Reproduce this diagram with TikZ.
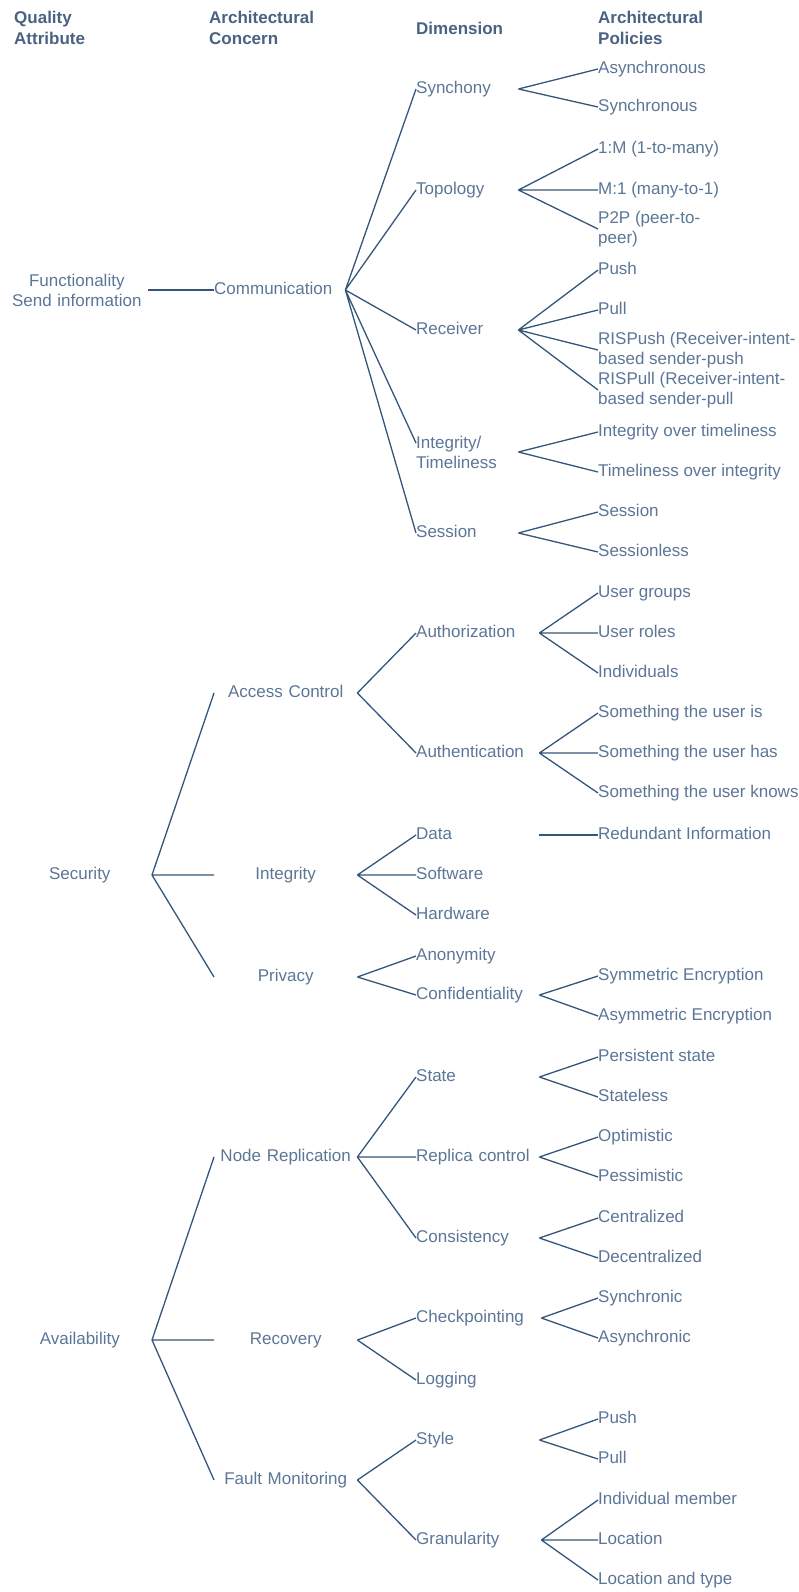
\documentclass[tikz,border=0pt]{standalone}
\usepackage{fontspec}
\setmainfont{Liberation Sans}
\definecolor{hdrcol}{HTML}{4A6282}
\definecolor{txtcol}{HTML}{5B7696}
\definecolor{linecol}{HTML}{34567A}

\begin{document}
\begin{tikzpicture}[x=1pt,y=-1pt,
    font=\fontsize{17}{20}\selectfont,
    every node/.style={text=txtcol,inner sep=0pt},
    hdr/.style={anchor=west,align=left,font=\fontsize{17}{21}\selectfont\bfseries,text=hdrcol},
    qa/.style={anchor=east,align=center,text width=144pt},
    concern/.style={anchor=west,align=center,text width=143pt,text height=12.5pt,text depth=3.5pt},
    dim/.style={anchor=west,align=left,text width=#1,text height=12.5pt,text depth=3.5pt},
    dim/.default=123pt,
    pol/.style={anchor=west,text height=12.5pt,text depth=3.5pt},
    pol2/.style={anchor=west,align=left},
    link/.style={draw=linecol,line width=1.3pt}]
    \useasboundingbox (0,0) rectangle (798,1592);

    % column titles
    \node[hdr] (h-qa) at (14,27.5) {Quality\\Attribute};
    \node[hdr] (h-ac) at (209,27.5) {Architectural\\Concern};
    \node[hdr] (h-dim) at (416,28) {Dimension};
    \node[hdr] (h-ap) at (598,27.5) {Architectural\\Policies};

    % functionality
    \node[qa,text width=142pt] (func) at (148,290) {Functionality\\Send information};
    \node[dim=131pt] (comm) at (214,290) {Communication};
    \node[dim=102pt] (syn) at (416,89) {Synchony};
    \node[dim=102pt] (topo) at (416,190) {Topology};
    \node[dim=102pt] (recv) at (416,330) {Receiver};
    \node[anchor=west,align=left,text width=102pt] (intime) at (416,452) {Integrity/\\Timeliness};
    \node[dim=102pt] (sess) at (416,533) {Session};
    \node[pol] (async) at (598,69) {Asynchronous};
    \node[pol] (sync) at (598,107) {Synchronous};
    \node[pol] (om) at (598,149) {1:M (1-to-many)};
    \node[pol] (mo) at (598,190) {M:1 (many-to-1)};
    \node[pol2] (p2p) at (598,229) {P2P (peer-to-\\peer)};
    \node[pol] (push) at (598,270) {Push};
    \node[pol] (pull) at (598,310) {Pull};
    \node[pol2] (rispush) at (598,350) {RISPush (Receiver-intent-\\based sender-push};
    \node[pol2] (rispull) at (598,390) {RISPull (Receiver-intent-\\based sender-pull};
    \node[pol] (iot) at (598,432) {Integrity over timeliness};
    \node[pol] (toi) at (598,472) {Timeliness over integrity};
    \node[pol] (sessy) at (598,512) {Session};
    \node[pol] (sessl) at (598,552) {Sessionless};

    \draw[link] (func.east) -- (comm.west);
    \draw[link] (comm.east) -- (syn.west) (comm.east) -- (topo.west) (comm.east) -- (recv.west)
        (comm.east) -- ([yshift=9pt]intime.west) (comm.east) -- (sess.west);
    \draw[link] (syn.east) -- (async.west) (syn.east) -- (sync.west);
    \draw[link] (topo.east) -- (om.west) (topo.east) -- (mo.west) (topo.east) -- (p2p.west);
    \draw[link] (recv.east) -- (push.west) (recv.east) -- (pull.west)
        (recv.east) -- (rispush.west) (recv.east) -- (rispull.west);
    \draw[link] (intime.east) -- (iot.west) (intime.east) -- (toi.west);
    \draw[link] (sess.east) -- (sessy.west) (sess.east) -- (sessl.west);

    % security
    \node[qa] (sec) at (152,875) {Security};
    \node[concern] (acc) at (214,693) {Access Control};
    \node[concern] (integ) at (214,875) {Integrity};
    \node[concern] (priv) at (214,977) {Privacy};
    \node[dim] (authz) at (416,633) {Authorization};
    \node[dim] (authn) at (416,753) {Authentication};
    \node[dim] (data) at (416,835) {Data};
    \node[dim] (soft) at (416,875) {Software};
    \node[dim] (hard) at (416,915) {Hardware};
    \node[dim] (anon) at (416,956) {Anonymity};
    \node[dim] (conf) at (416,995) {Confidentiality};
    \node[pol] (ugrp) at (598,593) {User groups};
    \node[pol] (urole) at (598,633) {User roles};
    \node[pol] (indiv) at (598,673) {Individuals};
    \node[pol] (sis) at (598,713) {Something the user is};
    \node[pol] (shas) at (598,753) {Something the user has};
    \node[pol] (skn) at (598,793) {Something the user knows};
    \node[pol] (redund) at (598,835) {Redundant Information};
    \node[pol] (symm) at (598,976) {Symmetric Encryption};
    \node[pol] (asym) at (598,1016) {Asymmetric Encryption};

    \draw[link] (sec.east) -- (acc.west) (sec.east) -- (integ.west) (sec.east) -- (priv.west);
    \draw[link] (acc.east) -- (authz.west) (acc.east) -- (authn.west);
    \draw[link] (integ.east) -- (data.west) (integ.east) -- (soft.west) (integ.east) -- (hard.west);
    \draw[link] (priv.east) -- (anon.west) (priv.east) -- (conf.west);
    \draw[link] (authz.east) -- (ugrp.west) (authz.east) -- (urole.west) (authz.east) -- (indiv.west);
    \draw[link] (authn.east) -- (sis.west) (authn.east) -- (shas.west) (authn.east) -- (skn.west);
    \draw[link] (data.east) -- (redund.west);
    \draw[link] (conf.east) -- (symm.west) (conf.east) -- (asym.west);

    % availability
    \node[qa] (avail) at (152,1340) {Availability};
    \node[concern] (nrep) at (214,1157) {Node Replication};
    \node[concern] (recov) at (214,1340) {Recovery};
    \node[concern] (fmon) at (214,1480) {Fault Monitoring};
    \node[dim] (state) at (416,1077) {State};
    \node[dim] (repl) at (416,1157) {Replica control};
    \node[dim] (cons) at (416,1238) {Consistency};
    \node[dim=125pt] (ckpt) at (416,1318) {Checkpointing};
    \node[dim] (logg) at (416,1380) {Logging};
    \node[dim] (style) at (416,1440) {Style};
    \node[dim=125pt] (gran) at (416,1540) {Granularity};
    \node[pol] (persist) at (598,1057) {Persistent state};
    \node[pol] (statel) at (598,1097) {Stateless};
    \node[pol] (optim) at (598,1137) {Optimistic};
    \node[pol] (pessim) at (598,1177) {Pessimistic};
    \node[pol] (centr) at (598,1218) {Centralized};
    \node[pol] (decentr) at (598,1258) {Decentralized};
    \node[pol] (synchr) at (598,1298) {Synchronic};
    \node[pol] (asynchr) at (598,1338) {Asynchronic};
    \node[pol] (fpush) at (598,1419) {Push};
    \node[pol] (fpull) at (598,1459) {Pull};
    \node[pol] (indm) at (598,1500) {Individual member};
    \node[pol] (loc) at (598,1540) {Location};
    \node[pol] (loct) at (598,1580) {Location and type};

    \draw[link] (avail.east) -- (nrep.west) (avail.east) -- (recov.west) (avail.east) -- (fmon.west);
    \draw[link] (nrep.east) -- (state.west) (nrep.east) -- (repl.west) (nrep.east) -- (cons.west);
    \draw[link] (recov.east) -- (ckpt.west) (recov.east) -- (logg.west);
    \draw[link] (fmon.east) -- (style.west) (fmon.east) -- (gran.west);
    \draw[link] (state.east) -- (persist.west) (state.east) -- (statel.west);
    \draw[link] (repl.east) -- (optim.west) (repl.east) -- (pessim.west);
    \draw[link] (cons.east) -- (centr.west) (cons.east) -- (decentr.west);
    \draw[link] (ckpt.east) -- (synchr.west) (ckpt.east) -- (asynchr.west);
    \draw[link] (style.east) -- (fpush.west) (style.east) -- (fpull.west);
    \draw[link] (gran.east) -- (indm.west) (gran.east) -- (loc.west) (gran.east) -- (loct.west);
  \end{tikzpicture}
\end{document}
